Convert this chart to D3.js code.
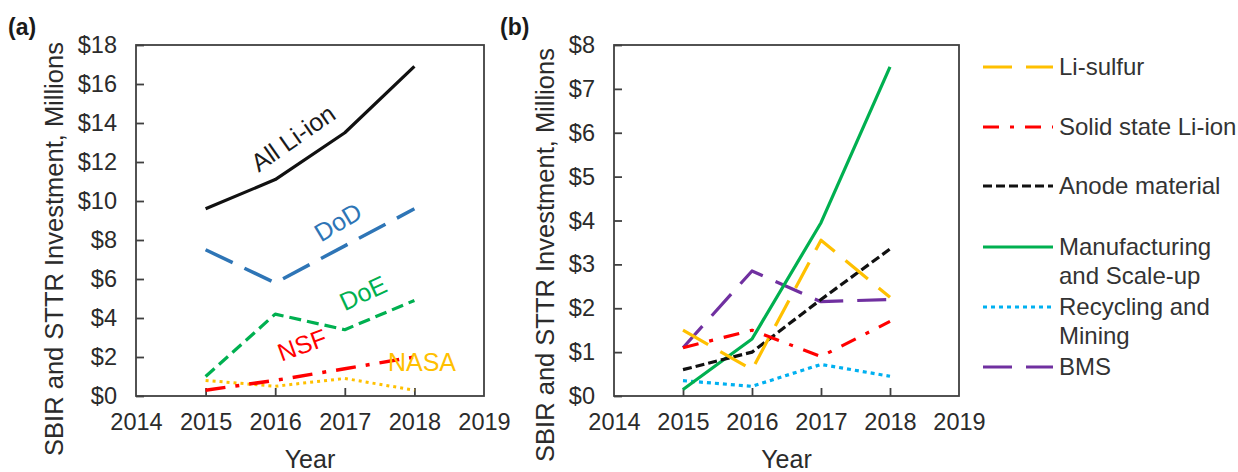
<!DOCTYPE html>
<html><head><meta charset="utf-8">
<script src="https://cdn.jsdelivr.net/npm/d3@7"></script>
<style>
body{margin:0;background:#fff;}
svg{display:block;font-family:"Liberation Sans",Arial,sans-serif;}
</style></head>
<body>
<svg id="c" width="1238" height="472"></svg>
<script>
// ---------- data ----------
const years = [2015, 2016, 2017, 2018];
const xTickYears = [2014, 2015, 2016, 2017, 2018, 2019];
const yTicksA = [0, 2, 4, 6, 8, 10, 12, 14, 16, 18];
const yTicksB = [0, 1, 2, 3, 4, 5, 6, 7, 8];

// panel (a) – by agency
const allLiIon = [9.6, 11.1, 13.5, 16.9];
const dod      = [7.5, 5.8, 7.7, 9.6];
const doe      = [1.0, 4.2, 3.4, 4.9];
const nsf      = [0.3, 0.8, 1.4, 2.0];
const nasa     = [0.8, 0.5, 0.9, 0.3];

// panel (b) – by topic
const liSulfur      = [1.5, 0.6, 3.55, 2.25];
const solidState    = [1.1, 1.5, 0.9, 1.7];
const anode         = [0.6, 1.0, 2.2, 3.35];
const manufacturing = [0.15, 1.3, 3.95, 7.5];
const recycling     = [0.35, 0.22, 0.72, 0.45];
const bms           = [1.1, 2.85, 2.15, 2.2];

const yTitle = "SBIR and STTR Investment, Millions";
const xTitle = "Year";

// ---------- drawing ----------
const svg = d3.select("#c");
const money = d => "$" + d;

function panel(cfg){
  const x = d3.scaleLinear().domain([2014, 2019]).range([cfg.left, cfg.right]);
  const y = d3.scaleLinear().domain([0, cfg.ymax]).range([cfg.bottom, cfg.top]);
  const g = svg.append("g");
  g.append("rect").attr("x", cfg.left).attr("y", cfg.top)
    .attr("width", cfg.right - cfg.left).attr("height", cfg.bottom - cfg.top)
    .attr("fill", "none").attr("stroke", "#404040").attr("stroke-width", 1.8);
  const ya = g.append("g").attr("transform", `translate(${cfg.left},0)`)
    .call(d3.axisLeft(y).tickValues(cfg.yticks).tickFormat(money)
      .tickSizeInner(-8).tickSizeOuter(0).tickPadding(19));
  ya.select(".domain").remove();
  ya.selectAll("line").attr("stroke", "#404040").attr("stroke-width", 1.8);
  ya.selectAll("text").attr("font-size", 23.5).attr("fill", "#2b2b2b")
    .attr("font-family", "Liberation Sans, Arial, sans-serif");
  const xa = g.append("g").attr("transform", `translate(0,${cfg.bottom})`)
    .call(d3.axisBottom(x).tickValues(xTickYears).tickFormat(d3.format("d"))
      .tickSizeInner(-8).tickSizeOuter(0).tickPadding(17));
  xa.select(".domain").remove();
  xa.selectAll("line").attr("stroke", "#404040").attr("stroke-width", 1.8)
    .attr("opacity", d => (d === 2014 || d === 2019) ? 0 : 1);
  xa.selectAll("text").attr("font-size", 23.5).attr("fill", "#2b2b2b")
    .attr("font-family", "Liberation Sans, Arial, sans-serif");
  g.append("text").attr("x", (cfg.left + cfg.right) / 2).attr("y", 468)
    .attr("text-anchor", "middle").attr("font-size", 25).attr("fill", "#2b2b2b")
    .text(xTitle);
  g.append("text").attr("transform", `translate(${cfg.ytx},${cfg.yty}) rotate(-90)`)
    .attr("text-anchor", "middle").attr("font-size", 25.5).attr("fill", "#2b2b2b")
    .text(yTitle);
  g.append("text").attr("x", cfg.labx).attr("y", 35).attr("font-size", 23)
    .attr("font-weight", "bold").attr("fill", "#1a1a1a").text(cfg.label);
  const line = d3.line().x((d, i) => x(years[i])).y(d => y(d));
  cfg.series.forEach(s => {
    g.append("path").datum(s.values).attr("d", line)
      .attr("fill", "none").attr("stroke", s.color).attr("stroke-width", s.width)
      .attr("stroke-dasharray", s.dash).attr("stroke-linejoin", "round")
      .attr("stroke-linecap", s.cap || "butt");
  });
  return {x, y, g};
}

const A = panel({
  left: 136, right: 484, top: 45, bottom: 396, ymax: 18, yticks: yTicksA,
  ytx: 63, yty: 249, labx: 8, label: "(a)",
  series: [
    {values: nasa, color: "#FFC000", width: 3, dash: "3,4"},
    {values: nsf, color: "#FF0000", width: 3.5, dash: "20,10,4,10"},
    {values: doe, color: "#00B050", width: 3.2, dash: "12,6"},
    {values: dod, color: "#2E75B6", width: 3.5, dash: "30,13"},
    {values: allLiIon, color: "#111111", width: 3.2, dash: null}
  ]
});

const labelsA = [
  {t: "All Li-ion", c: "#1a1a1a", x: 293, y: 138, r: -35},
  {t: "DoD", c: "#2E75B6", x: 338, y: 222, r: -31},
  {t: "DoE", c: "#00B050", x: 363, y: 293, r: -25},
  {t: "NSF", c: "#FF0000", x: 302, y: 345, r: -20},
  {t: "NASA", c: "#FFC000", x: 422, y: 362, r: 0}
];
labelsA.forEach(l => {
  A.g.append("text").attr("transform", `translate(${l.x},${l.y}) rotate(${l.r})`)
    .attr("text-anchor", "middle").attr("dy", "0.35em").attr("font-size", 25)
    .attr("fill", l.c).text(l.t);
});

const seriesB = [
  {name: ["Li-sulfur"], values: liSulfur, color: "#FFC000", width: 3.2, dash: "29,14"},
  {name: ["Solid state Li-ion"], values: solidState, color: "#FF0000", width: 3.2, dash: "16,11,4,11"},
  {name: ["Anode material"], values: anode, color: "#111111", width: 3.2, dash: "9,4"},
  {name: ["Manufacturing", "and Scale-up"], values: manufacturing, color: "#00B050", width: 3.2, dash: null},
  {name: ["Recycling and", "Mining"], values: recycling, color: "#00B0F0", width: 3.2, dash: "4,4"},
  {name: ["BMS"], values: bms, color: "#7030A0", width: 3.2, dash: "29,14"}
];

const B = panel({
  left: 614, right: 959, top: 45, bottom: 396, ymax: 8, yticks: yTicksB,
  ytx: 554, yty: 255, labx: 500, label: "(b)",
  series: seriesB.slice().reverse()
});

const legY = [67, 127, 186, 247, 307, 367];
const leg = svg.append("g");
seriesB.forEach((s, i) => {
  leg.append("line").attr("x1", 983).attr("x2", 1053).attr("y1", legY[i]).attr("y2", legY[i])
    .attr("stroke", s.color).attr("stroke-width", 3.2).attr("stroke-dasharray", s.dash);
  s.name.forEach((n, j) => {
    leg.append("text").attr("x", 1059).attr("y", legY[i] + 8 + j * 29)
      .attr("font-size", 24).attr("fill", "#333").text(n);
  });
});
</script>
</body></html>
